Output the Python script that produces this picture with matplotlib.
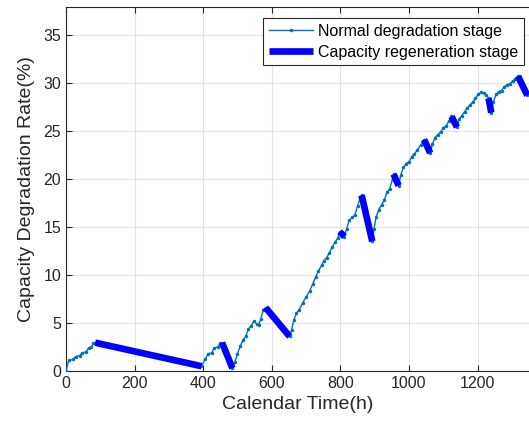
"""Capacity degradation rate vs calendar time, with regeneration stages highlighted."""
import numpy as np
import matplotlib
matplotlib.use("Agg")
import matplotlib.pyplot as plt

plt.rcParams["font.family"] = ["Liberation Sans", "DejaVu Sans"]

# full measured curve (calendar time h, degradation rate %)
time_h = [
    0, 8, 20, 28, 40, 48, 58, 66, 74, 80, 85,
    395, 405, 415, 425, 432, 442, 450, 455,
    485, 492, 500, 508, 516, 524, 532, 540, 548, 556, 562, 568, 575, 582,
    652, 658, 664, 672, 680, 690, 700, 710, 720, 728, 736, 745, 752, 760,
    768, 776, 784, 792, 798,
    812, 818, 826, 834, 842, 850, 858, 862,
    893, 898, 904, 912, 920, 928, 936, 944, 952, 955,
    970, 976, 984, 992, 1000, 1008, 1016, 1024, 1034, 1044,
    1062, 1068, 1076, 1084, 1092, 1100, 1108, 1116, 1124,
    1140, 1146, 1154, 1162, 1170, 1178, 1186, 1194, 1202, 1210, 1218, 1226, 1232,
    1240, 1246, 1254, 1262, 1270, 1278, 1286, 1294, 1302, 1310, 1318,
    1345,
]
rate_pct = [
    0.0, 1.1, 1.2, 1.5, 1.6, 1.9, 2.0, 2.4, 2.5, 2.9, 2.95,
    0.5, 1.2, 1.8, 1.9, 2.4, 2.5, 2.9, 2.95,
    0.3, 0.9, 1.8, 2.6, 3.2, 3.6, 4.4, 4.7, 5.2, 4.9, 4.8, 5.4, 6.4, 6.6,
    3.6, 4.3, 5.3, 6.0, 6.4, 7.1, 7.7, 8.3, 9.1, 9.8, 10.4, 11.0, 11.5, 11.8,
    12.3, 12.9, 13.4, 13.8, 14.5,
    14.0, 14.8, 15.7, 16.0, 16.2, 17.2, 18.0, 18.3,
    13.5, 14.8, 16.0, 16.8, 17.3, 17.8, 18.6, 19.0, 20.0, 20.5,
    19.3, 20.4, 21.2, 21.6, 21.8, 22.3, 22.6, 23.0, 23.5, 24.1,
    22.7, 23.6, 24.3, 24.6, 24.9, 25.3, 25.5, 26.0, 26.5,
    25.4, 26.2, 26.6, 27.0, 27.4, 27.7, 28.0, 28.4, 28.8, 29.0, 28.9, 28.7, 28.4,
    26.9, 28.0, 28.8, 29.1, 29.2, 29.6, 29.8, 29.9, 30.2, 30.4, 30.7,
    28.7,
]

# capacity regeneration stages (start h, end h)
regen_start = [85, 455, 582, 798, 862, 955, 1044, 1124, 1232, 1318]
regen_end = [395, 485, 652, 812, 893, 970, 1062, 1140, 1240, 1345]

t = np.array(time_h, dtype=float)
r = np.array(rate_pct, dtype=float)

fig = plt.figure(figsize=(5.29, 4.30), dpi=100)
ax = fig.add_axes([0.1248, 0.1372, 0.8752, 0.8465])

ax.plot(t, r, color="#0072BD", lw=1.0, marker=".", ms=3,
        label="Normal degradation stage", zorder=3)
for k, (a, b) in enumerate(zip(regen_start, regen_end)):
    m = (t >= a) & (t <= b)
    ax.plot(t[m], r[m], color="#0000FF", lw=4.8, solid_capstyle="butt",
            label="Capacity regeneration stage" if k == 0 else None, zorder=4)

ax.set_xlim(0, 1350)
ax.set_ylim(0, 37.9)
ax.set_xticks(np.arange(0, 1400, 200))
ax.set_yticks(np.arange(0, 40, 5))
ax.grid(True, color="#e3e3e3", lw=0.8)
ax.set_axisbelow(True)
ax.tick_params(direction="in", top=True, labelsize=11.5, colors="#262626",
               length=4)
for s in ["left", "bottom", "top"]:
    ax.spines[s].set_color("#262626")
ax.spines["right"].set_visible(False)

ax.set_xlabel("Calendar Time(h)", fontsize=14, color="#262626", labelpad=4)
ax.set_ylabel("Capacity Degradation Rate(%)", fontsize=14, color="#262626",
              labelpad=6)

leg = ax.legend(loc="upper right", bbox_to_anchor=(0.989, 0.970),
                fontsize=11.5, fancybox=False, framealpha=1, borderaxespad=0,
                handlelength=2.8, borderpad=0.35, labelspacing=0.4,
                handletextpad=0.3)
leg.get_frame().set_edgecolor("#262626")
leg.get_frame().set_linewidth(0.8)

fig.savefig("out.png", dpi=100)
